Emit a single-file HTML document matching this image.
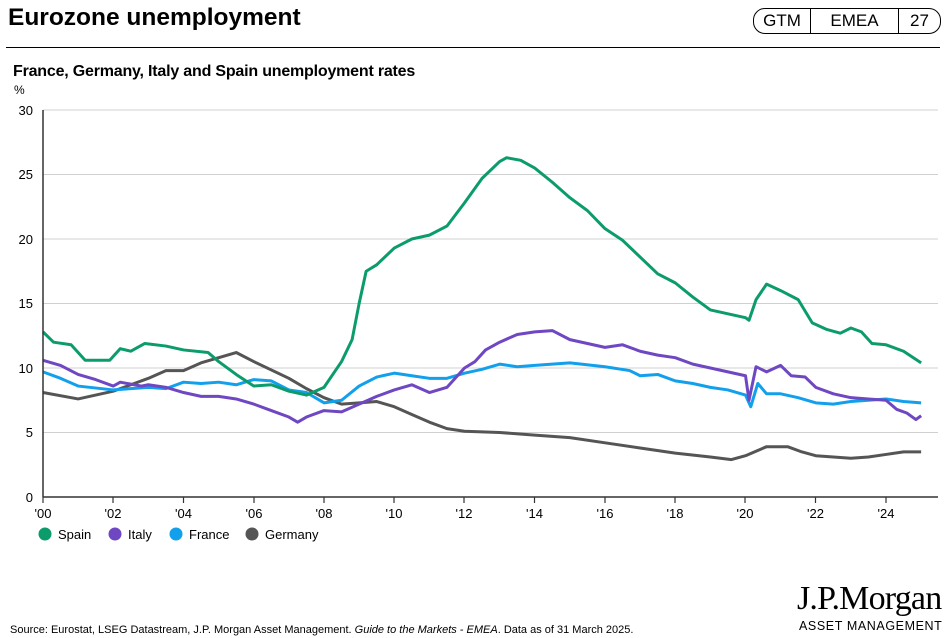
<!DOCTYPE html>
<html><head><meta charset="utf-8"><style>
body{margin:0;width:948px;height:638px;background:#fff;font-family:"Liberation Sans",sans-serif;position:relative;overflow:hidden}
.a{position:absolute;white-space:nowrap}
</style></head><body>
<div class="a" style="left:8px;top:4px;font-size:24.5px;font-weight:bold;color:#000">Eurozone unemployment</div>
<div class="a" style="left:753px;top:8px;width:186px;height:24px;border:1px solid #000;border-radius:12px;font-size:17px;display:flex">
<span style="width:56px;text-align:center;line-height:24px;border-right:1px solid #000">GTM</span>
<span style="width:87px;text-align:center;line-height:24px;border-right:1px solid #000">EMEA</span>
<span style="flex:1;text-align:center;line-height:24px">27</span></div>
<div class="a" style="left:6px;top:47px;width:934px;height:1px;background:#000"></div>
<div class="a" style="left:13px;top:63px;font-size:16px;font-weight:bold;letter-spacing:-0.2px">France, Germany, Italy and Spain unemployment rates</div>
<div class="a" style="left:14px;top:83px;font-size:12px">%</div>
<svg class="a" style="left:0;top:0" width="948" height="638">
<g stroke="#d0d0d0" stroke-width="1">
<line x1="43" x2="938" y1="110" y2="110"/><line x1="43" x2="938" y1="174.5" y2="174.5"/><line x1="43" x2="938" y1="239" y2="239"/><line x1="43" x2="938" y1="303.5" y2="303.5"/><line x1="43" x2="938" y1="368" y2="368"/><line x1="43" x2="938" y1="432.5" y2="432.5"/></g>
<g font-size="13" text-anchor="end" fill="#000"><text x="33" y="115">30</text><text x="33" y="179">25</text><text x="33" y="244">20</text><text x="33" y="308">15</text><text x="33" y="373">10</text><text x="33" y="437">5</text><text x="33" y="502">0</text></g>
<g fill="none" stroke-width="3" stroke-linejoin="round" transform="translate(43,497) scale(35.125,-12.9)">
<polyline vector-effect="non-scaling-stroke" stroke="#555" points="2000 8.1 2001 7.6 2002 8.2 2003 9.2 2003.5 9.8 2004 9.8 2004.5 10.4 2005 10.8 2005.5 11.2 2006 10.5 2007 9.2 2007.5 8.4 2008 7.7 2008.5 7.2 2009 7.3 2009.5 7.4 2010 7.0 2010.5 6.4 2011 5.8 2011.5 5.3 2012 5.1 2013 5.0 2014 4.8 2015 4.6 2016 4.2 2017 3.8 2018 3.4 2019 3.1 2019.6 2.9 2020 3.2 2020.6 3.9 2021.2 3.9 2021.6 3.5 2022 3.2 2022.5 3.1 2023 3.0 2023.5 3.1 2024 3.3 2024.5 3.5 2025 3.5" transform="translate(-2000,0)"/>
<polyline vector-effect="non-scaling-stroke" stroke="#12a0ec" points="2000 9.7 2000.5 9.2 2001 8.6 2002 8.3 2003 8.5 2003.5 8.4 2004 8.9 2004.5 8.8 2005 8.9 2005.5 8.7 2006 9.1 2006.5 9.0 2007 8.3 2007.5 8.1 2008 7.3 2008.5 7.5 2009 8.6 2009.5 9.3 2010 9.6 2010.5 9.4 2011 9.2 2011.5 9.2 2012 9.6 2012.5 9.9 2013 10.3 2013.5 10.1 2014 10.2 2015 10.4 2016 10.1 2016.7 9.8 2017 9.4 2017.5 9.5 2018 9.0 2018.5 8.8 2019 8.5 2019.5 8.3 2020 7.9 2020.15 7.0 2020.35 8.8 2020.6 8.0 2021 8.0 2021.5 7.7 2022 7.3 2022.5 7.2 2023 7.4 2024 7.6 2024.5 7.4 2025 7.3" transform="translate(-2000,0)"/>
<polyline vector-effect="non-scaling-stroke" stroke="#6f47c2" points="2000 10.6 2000.5 10.2 2001 9.5 2001.5 9.1 2002 8.6 2002.2 8.9 2002.8 8.6 2003 8.7 2003.5 8.5 2004 8.1 2004.5 7.8 2005 7.8 2005.5 7.6 2006 7.2 2006.5 6.7 2007 6.2 2007.25 5.8 2007.5 6.2 2008 6.7 2008.5 6.6 2009 7.2 2009.5 7.8 2010 8.3 2010.5 8.7 2011 8.1 2011.5 8.5 2012 10.0 2012.3 10.5 2012.6 11.4 2013 12.0 2013.5 12.6 2014 12.8 2014.5 12.9 2015 12.2 2015.5 11.9 2016 11.6 2016.5 11.8 2017 11.3 2017.5 11.0 2018 10.8 2018.5 10.3 2019 10.0 2019.5 9.7 2020 9.4 2020.1 7.5 2020.3 10.1 2020.6 9.7 2021 10.2 2021.3 9.4 2021.7 9.3 2022 8.5 2022.5 8.0 2023 7.7 2023.5 7.6 2024 7.5 2024.3 6.8 2024.6 6.5 2024.85 6.0 2025 6.3" transform="translate(-2000,0)"/>
<polyline vector-effect="non-scaling-stroke" stroke="#0c9c6b" points="2000 12.8 2000.3 12.0 2000.8 11.8 2001.2 10.6 2001.5 10.6 2001.9 10.6 2002.2 11.5 2002.5 11.3 2002.9 11.9 2003.5 11.7 2004 11.4 2004.7 11.2 2005 10.5 2005.5 9.5 2006 8.6 2006.5 8.7 2007 8.2 2007.5 7.9 2008 8.5 2008.5 10.5 2008.8 12.2 2009 15 2009.2 17.5 2009.5 18 2010 19.3 2010.5 20.0 2011 20.3 2011.5 21 2012 22.8 2012.5 24.7 2013 26.0 2013.2 26.3 2013.6 26.1 2014 25.5 2014.5 24.4 2015 23.2 2015.5 22.2 2016 20.8 2016.5 19.9 2017 18.6 2017.5 17.3 2018 16.6 2018.5 15.5 2019 14.5 2019.5 14.2 2020 13.9 2020.1 13.7 2020.3 15.3 2020.6 16.5 2021 16.0 2021.5 15.3 2021.9 13.5 2022.3 13.0 2022.7 12.7 2023 13.1 2023.3 12.8 2023.6 11.9 2024 11.8 2024.5 11.3 2025 10.4" transform="translate(-2000,0)"/>
</g>
<line x1="43" x2="43" y1="110" y2="497" stroke="#333" stroke-width="1.5"/>
<line x1="43" x2="938" y1="497" y2="497" stroke="#333" stroke-width="1.5"/>
<g stroke="#333" stroke-width="1.2">
<line x1="43" x2="43" y1="497" y2="503"/><line x1="113" x2="113" y1="497" y2="503"/><line x1="183.5" x2="183.5" y1="497" y2="503"/><line x1="254" x2="254" y1="497" y2="503"/><line x1="324" x2="324" y1="497" y2="503"/><line x1="394" x2="394" y1="497" y2="503"/><line x1="464" x2="464" y1="497" y2="503"/><line x1="534.5" x2="534.5" y1="497" y2="503"/><line x1="605" x2="605" y1="497" y2="503"/><line x1="675" x2="675" y1="497" y2="503"/><line x1="745" x2="745" y1="497" y2="503"/><line x1="815.5" x2="815.5" y1="497" y2="503"/><line x1="886" x2="886" y1="497" y2="503"/></g>
<g font-size="13" text-anchor="middle"><text x="43" y="518">'00</text><text x="113" y="518">'02</text><text x="183.5" y="518">'04</text><text x="254" y="518">'06</text><text x="324" y="518">'08</text><text x="394" y="518">'10</text><text x="464" y="518">'12</text><text x="534.5" y="518">'14</text><text x="605" y="518">'16</text><text x="675" y="518">'18</text><text x="745" y="518">'20</text><text x="815.5" y="518">'22</text><text x="886" y="518">'24</text></g>
<g font-size="13"><circle cx="45" cy="534" r="6.5" fill="#0c9c6b"/><text x="58" y="539">Spain</text>
<circle cx="115" cy="534" r="6.5" fill="#6f47c2"/><text x="128" y="539">Italy</text>
<circle cx="176" cy="534" r="6.5" fill="#12a0ec"/><text x="189" y="539">France</text>
<circle cx="252" cy="534" r="6.5" fill="#555"/><text x="265" y="539">Germany</text></g>
</svg>
<div class="a" style="left:10px;top:624px;font-size:11px">Source: Eurostat, LSEG Datastream, J.P. Morgan Asset Management. <i>Guide to the Markets - EMEA</i>. Data as of 31 March 2025.</div>
<div class="a" style="left:797px;top:580px;font-family:'Liberation Serif',serif;font-size:34px;letter-spacing:-0.8px">J.P.Morgan</div>
<div class="a" style="left:799px;top:619px;font-size:12.5px;letter-spacing:0.6px">ASSET MANAGEMENT</div>
</body></html>
